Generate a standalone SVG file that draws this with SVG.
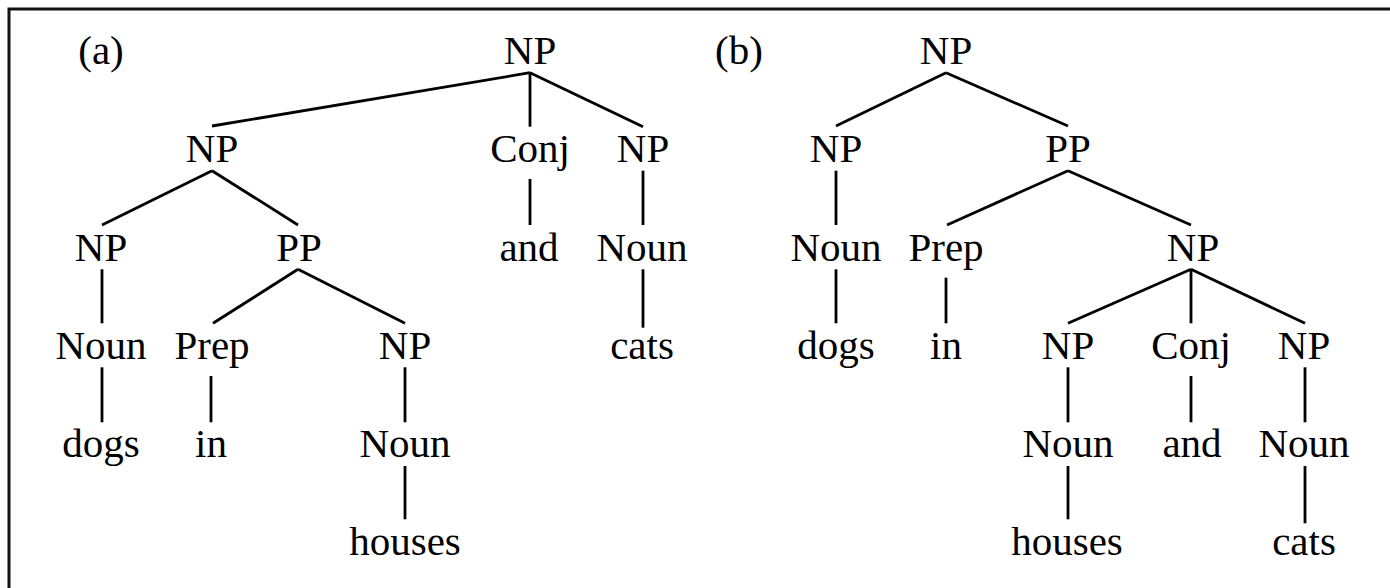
<svg xmlns="http://www.w3.org/2000/svg" width="1390" height="588" viewBox="0 0 1390 588">
<style>
.e line{stroke:#000;stroke-width:2.8;stroke-linecap:butt}
.b{stroke:#111;stroke-width:3;fill:none}
</style>
<rect width="1390" height="588" fill="#fff"/>
<path class="b" d="M9 588V9H1390"/>
<g id="connectors" class="e">
<line x1="530" y1="72.7" x2="212" y2="126"/>
<line x1="530" y1="72.7" x2="530" y2="126.7"/>
<line x1="530" y1="72.7" x2="643" y2="126.7"/>
<line x1="212" y1="170.7" x2="102" y2="225"/>
<line x1="212" y1="170.7" x2="298" y2="225"/>
<line x1="530" y1="179" x2="530" y2="225"/>
<line x1="643" y1="170.7" x2="643" y2="225"/>
<line x1="102" y1="269.3" x2="102" y2="323.3"/>
<line x1="298" y1="269.3" x2="213" y2="323.3"/>
<line x1="298" y1="269.3" x2="405" y2="323.3"/>
<line x1="643" y1="269.3" x2="643" y2="327.7"/>
<line x1="102" y1="367.3" x2="102" y2="422.3"/>
<line x1="211" y1="376" x2="211" y2="422.3"/>
<line x1="405" y1="367.3" x2="405" y2="422.3"/>
<line x1="405" y1="466" x2="405" y2="519.3"/>
<line x1="946" y1="72.7" x2="836" y2="126"/>
<line x1="946" y1="72.7" x2="1068" y2="126"/>
<line x1="836" y1="170.7" x2="836" y2="225"/>
<line x1="1068" y1="170.7" x2="947" y2="225"/>
<line x1="1068" y1="170.7" x2="1191" y2="225"/>
<line x1="836" y1="269.3" x2="836" y2="323.3"/>
<line x1="946" y1="277.7" x2="946" y2="323.3"/>
<line x1="1191" y1="269.3" x2="1068" y2="323.3"/>
<line x1="1191" y1="269.3" x2="1191" y2="323.3"/>
<line x1="1191" y1="269.3" x2="1305" y2="323.3"/>
<line x1="1068" y1="367.3" x2="1068" y2="422.3"/>
<line x1="1191" y1="376" x2="1191" y2="422.3"/>
<line x1="1305" y1="367.3" x2="1305" y2="422.3"/>
<line x1="1068" y1="466" x2="1068" y2="519.3"/>
<line x1="1305" y1="466" x2="1305" y2="523.3"/>
</g>
<g id="nodes" font-family="Liberation Serif, Times New Roman, serif" font-size="41" text-anchor="middle" fill="#000">
<g id="label-a"><text x="101" y="64">(a)</text></g>
<g id="label-b"><text x="739" y="64">(b)</text></g>
<g id="a-np0"><text x="530" y="64">NP</text></g>
<g id="a-np1"><text x="212" y="162.3">NP</text></g>
<g id="a-conj"><text x="530" y="162.3">Conj</text></g>
<g id="a-np2"><text x="643" y="162.3">NP</text></g>
<g id="a-np3"><text x="101" y="260.7">NP</text></g>
<g id="a-pp"><text x="299" y="260.7">PP</text></g>
<g id="a-and"><text x="529" y="260.7">and</text></g>
<g id="a-noun1"><text x="642" y="260.7">Noun</text></g>
<g id="a-noun2"><text x="101" y="359.3">Noun</text></g>
<g id="a-prep"><text x="212" y="359.3">Prep</text></g>
<g id="a-np4"><text x="405" y="359.3">NP</text></g>
<g id="a-cats"><text x="642" y="359.3">cats</text></g>
<g id="a-dogs"><text x="101" y="456.7">dogs</text></g>
<g id="a-in"><text x="211" y="456.7">in</text></g>
<g id="a-noun3"><text x="405" y="456.7">Noun</text></g>
<g id="a-houses"><text x="405" y="555">houses</text></g>
<g id="b-np0"><text x="946" y="64">NP</text></g>
<g id="b-np1"><text x="836" y="162.3">NP</text></g>
<g id="b-pp"><text x="1068" y="162.3">PP</text></g>
<g id="b-noun1"><text x="836" y="260.7">Noun</text></g>
<g id="b-prep"><text x="946" y="260.7">Prep</text></g>
<g id="b-np2"><text x="1193" y="260.7">NP</text></g>
<g id="b-dogs"><text x="836" y="359.3">dogs</text></g>
<g id="b-in"><text x="946" y="359.3">in</text></g>
<g id="b-np3"><text x="1068" y="359.3">NP</text></g>
<g id="b-conj"><text x="1191" y="359.3">Conj</text></g>
<g id="b-np4"><text x="1304" y="359.3">NP</text></g>
<g id="b-noun2"><text x="1068" y="456.7">Noun</text></g>
<g id="b-and"><text x="1192" y="456.7">and</text></g>
<g id="b-noun3"><text x="1304" y="456.7">Noun</text></g>
<g id="b-houses"><text x="1067" y="555">houses</text></g>
<g id="b-cats"><text x="1304" y="555">cats</text></g>
</g>
</svg>
